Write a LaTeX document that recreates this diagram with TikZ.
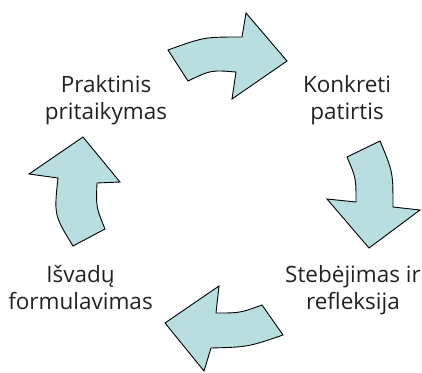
\documentclass[tikz,border=0pt]{standalone}
\usepackage{fontspec}
\setmainfont{Open Sans}
\definecolor{arrowfill}{RGB}{185,222,224}
\definecolor{labeltext}{RGB}{34,34,34}
\begin{document}
\begin{tikzpicture}[x=1pt,y=-1pt,
  cyclearrow/.style={fill=arrowfill,draw=black,line width=0.9pt,line join=miter},
  label/.style={align=center,anchor=base,inner sep=0pt,text=labeltext,
    font=\fontsize{22.5}{27}\selectfont}]
\useasboundingbox (0,0) rectangle (422,372);
% top arrow
\draw[cyclearrow] (168,50) .. controls (204,37) .. (242,37) -- (246,13) -- (287,61)
  -- (232,99) -- (236,72) .. controls (211,70) .. (188,81) -- cycle;
% right arrow
\draw[cyclearrow] (347,157) -- (380,141) .. controls (393,172) .. (393,207) -- (420,210)
  -- (369,248) -- (327,199) -- (356,202) .. controls (356,178) .. cycle;
% bottom arrow
\draw[cyclearrow] (262,305) -- (283,335) .. controls (248,347) .. (211,348) -- (204,371)
  -- (165,323) -- (219,286) -- (216,313) .. controls (240,313) .. cycle;
% left arrow
\draw[cyclearrow] (83,137) -- (120,182) -- (97,183) .. controls (96,207) .. (105,229)
  -- (73,246) .. controls (54,215) .. (58,178) -- (29,174) -- cycle;
% labels
\node[label] (konkreti) at (347,119.7) {Konkreti\\patirtis};
\node[label] (stebejimas) at (353,309.7) {Stebėjimas ir\\refleksija};
\node[label] (isvadu) at (80.5,309.7) {Išvadų\\formulavimas};
\node[label] (praktinis) at (106,119.7) {Praktinis\\pritaikymas};
\end{tikzpicture}
\end{document}
